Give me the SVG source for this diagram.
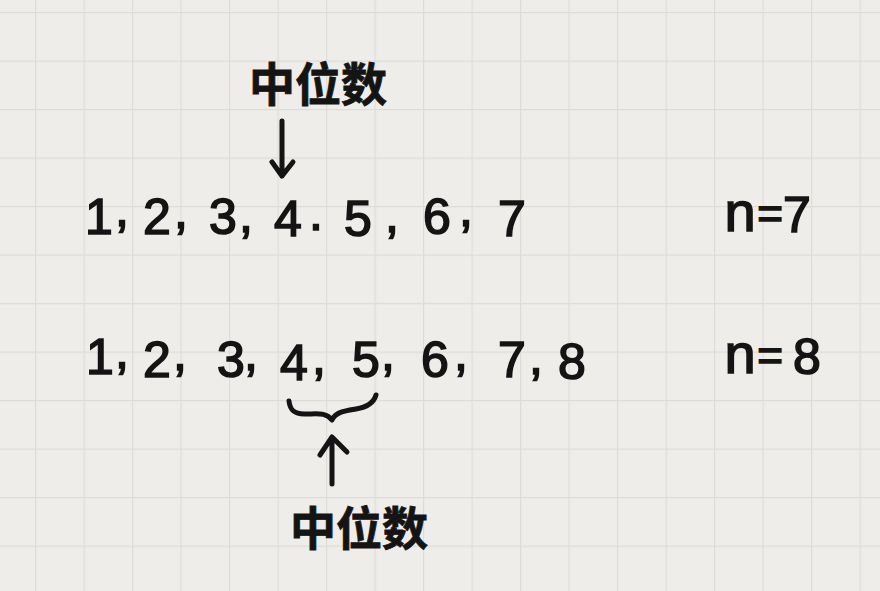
<svg xmlns="http://www.w3.org/2000/svg" width="880" height="591" viewBox="0 0 880 591">
<defs>
<pattern id="grid" x="35" y="12" width="48.5" height="48.5" patternUnits="userSpaceOnUse">
<path d="M0 0H48.5M0 0V48.5" fill="none" stroke="#dddcd8" stroke-width="2.4"/>
</pattern>
</defs>
<style>
.hw{font-family:"Liberation Sans","Noto Sans CJK SC",sans-serif;fill:#141414;stroke:#141414;stroke-width:1.6;text-anchor:middle}
.num{font-size:50px}
.nn{font-size:56px}
.eq{font-size:44px}
.cjk{font-family:"Noto Sans CJK SC","Noto Sans CJK TC",sans-serif;font-size:46px;font-weight:bold;stroke-width:0.8}
.ln{fill:none;stroke:#141414;stroke-width:5;stroke-linecap:round;stroke-linejoin:round}
</style>
<rect width="880" height="591" fill="#eeede9"/>
<rect width="880" height="591" fill="url(#grid)"/>
<g id="label-top"><text class="hw cjk" x="318" y="101">中位数</text></g>
<g id="row-n7" class="hw num">
<text x="99" y="234">1</text><text x="122" y="226">,</text>
<text x="157" y="234">2</text><text x="181" y="228">,</text>
<text x="223" y="234">3</text><text x="246" y="232">,</text>
<text x="288" y="236">4</text><text x="316" y="230">.</text>
<text x="358" y="236">5</text><text x="392" y="232">,</text>
<text x="437" y="234">6</text><text x="466" y="226">,</text>
<text x="512" y="236">7</text>
</g>
<g id="label-n7" class="hw"><text class="nn" x="740" y="231">n</text><text class="eq" x="770" y="229">=</text><text class="num" x="797" y="232">7</text></g>
<g id="row-n8" class="hw num">
<text x="100" y="374">1</text><text x="122" y="368">,</text>
<text x="157" y="377">2</text><text x="180" y="370">,</text>
<text x="231" y="377">3</text><text x="251" y="370">,</text>
<text x="294" y="380">4</text><text x="319" y="374">,</text>
<text x="366" y="377">5</text><text x="388" y="370">,</text>
<text x="435" y="377">6</text><text x="461" y="370">,</text>
<text x="512" y="377">7</text><text x="536" y="374">,</text>
<text x="572" y="379">8</text>
</g>
<g id="label-n8" class="hw"><text class="nn" x="740" y="373">n</text><text class="eq" x="770" y="371">=</text><text class="num" x="807" y="374">8</text></g>
<g id="label-bottom"><text class="hw cjk" x="359" y="545">中位数</text></g>
<g id="connectors">
<path class="ln" d="M282 121V176M272 162L282 176L293 162"/>
<path class="ln" d="M289 401C290 410 294 414 304 414C318 414 326 412 332 420C336 412 344 411 356 409C368 407 374 402 376 395"/>
<path class="ln" d="M332 484V437M320 455L332 437L347 452"/>
</g>
</svg>
